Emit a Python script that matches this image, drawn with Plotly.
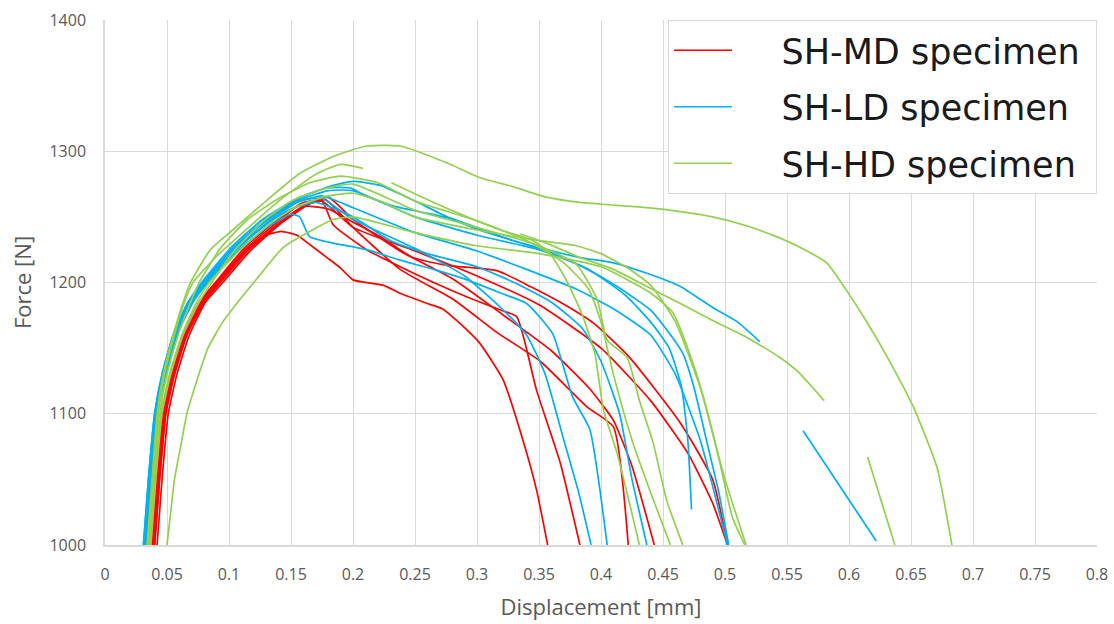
import plotly.graph_objects as go

# ---------------- data (displacement [mm], force [N]) ----------------
md1_x = [0.040,0.044,0.049,0.056,0.066,0.080,0.092,0.105,0.117,0.130,0.142,0.155,0.165,0.179,0.190,0.200,0.224,0.240,0.260,0.272,0.286,0.302,0.321,0.337,0.348,0.357]
md1_y = [1000,1050,1100,1130,1160,1185,1200,1215,1228,1236,1239,1236,1229,1219,1211,1202,1198,1191,1184,1180,1169,1154,1126,1080,1042,1000]
md2_x = [0.039,0.043,0.048,0.055,0.065,0.078,0.091,0.115,0.140,0.160,0.180,0.200,0.222,0.248,0.276,0.316,0.343,0.369,0.394,0.423,0.464,0.490,0.502]
md2_y = [1000,1050,1100,1130,1160,1185,1200,1225,1245,1258,1256,1246,1235,1219,1213,1209,1197,1184,1169,1143,1093,1050,1000]
md3_x = [0.037,0.041,0.046,0.053,0.063,0.076,0.089,0.113,0.138,0.160,0.175,0.184,0.211,0.238,0.265,0.292,0.319,0.332,0.348,0.367,0.383]
md3_y = [1000,1050,1100,1130,1160,1185,1200,1227,1247,1261,1262,1244,1225,1212,1200,1189,1179,1174,1118,1063,1000]
md4_x = [0.042,0.046,0.051,0.058,0.068,0.081,0.095,0.118,0.142,0.165,0.180,0.200,0.238,0.280,0.320,0.360,0.390,0.410,0.425,0.443]
md4_y = [1000,1050,1100,1130,1160,1185,1200,1225,1245,1260,1265,1248,1224,1203,1176,1148,1120,1095,1060,1000]
md5_x = [0.040,0.044,0.049,0.056,0.066,0.079,0.093,0.116,0.141,0.163,0.178,0.200,0.238,0.281,0.316,0.351,0.389,0.410,0.422]
md5_y = [1000,1050,1100,1130,1160,1185,1200,1225,1245,1259,1263,1242,1210,1187,1162,1140,1105,1090,1000]
md6_x = [0.038,0.042,0.047,0.054,0.064,0.077,0.090,0.114,0.139,0.158,0.175,0.200,0.250,0.300,0.350,0.400,0.440,0.470,0.490,0.502]
md6_y = [1000,1050,1100,1130,1160,1185,1200,1226,1246,1260,1262,1242,1224,1205,1183,1150,1110,1070,1032,1000]

ld1_x = [0.031,0.035,0.040,0.046,0.055,0.067,0.079,0.103,0.128,0.155,0.180,0.200,0.222,0.248,0.276,0.302,0.329,0.356,0.383,0.410,0.437,0.464,0.490,0.510,0.528]
ld1_y = [1000,1050,1100,1130,1160,1185,1200,1226,1247,1263,1273,1277,1274,1263,1250,1240,1232,1225,1219,1215,1207,1197,1181,1170,1155]
ld2_x = [0.032,0.036,0.041,0.047,0.056,0.068,0.080,0.104,0.129,0.155,0.180,0.200,0.250,0.300,0.350,0.390,0.420,0.440,0.455,0.465,0.470,0.473]
ld2_y = [1000,1050,1100,1130,1160,1185,1200,1226,1246,1262,1270,1270,1250,1236,1225,1210,1190,1170,1150,1120,1080,1027]
ld3_x = [0.032,0.036,0.041,0.048,0.057,0.069,0.081,0.105,0.130,0.155,0.175,0.200,0.250,0.300,0.340,0.380,0.410,0.440,0.460,0.480,0.490,0.502]
ld3_y = [1000,1050,1100,1130,1160,1185,1200,1225,1245,1261,1266,1257,1238,1224,1210,1195,1180,1160,1130,1080,1045,1000]
ld4_x = [0.033,0.037,0.042,0.049,0.058,0.070,0.082,0.106,0.131,0.150,0.170,0.200,0.230,0.260,0.300,0.330,0.360,0.385,0.400,0.415,0.425,0.437]
ld4_y = [1000,1050,1100,1130,1160,1185,1200,1225,1245,1256,1261,1250,1232,1222,1212,1200,1185,1165,1140,1100,1050,1000]
ld5_x = [0.033,0.037,0.042,0.049,0.058,0.071,0.083,0.107,0.132,0.150,0.157,0.165,0.184,0.211,0.238,0.265,0.292,0.319,0.340,0.361,0.377,0.391,0.405]
ld5_y = [1000,1050,1100,1130,1160,1185,1200,1224,1243,1252,1250,1235,1230,1225,1217,1210,1202,1192,1184,1161,1113,1088,1000]
ld6_x = [0.032,0.036,0.041,0.047,0.056,0.068,0.080,0.103,0.128,0.155,0.175,0.200,0.250,0.290,0.320,0.340,0.355,0.370,0.382,0.392]
ld6_y = [1000,1050,1100,1130,1160,1185,1200,1226,1246,1262,1264,1248,1226,1205,1180,1160,1130,1080,1040,1000]
ld7_x = [0.031,0.035,0.040,0.046,0.055,0.067,0.078,0.102,0.127,0.155,0.179,0.198,0.208,0.224,0.238,0.278,0.305,0.332,0.359,0.385,0.413,0.440,0.453,0.466,0.475,0.485,0.495,0.503]
ld7_y = [1000,1050,1100,1130,1160,1185,1200,1227,1248,1264,1272,1272,1267,1261,1257,1249,1240,1231,1223,1212,1197,1179,1164,1146,1120,1080,1040,1000]
ld8_x = [0.563,0.622]
ld8_y = [1087,1003]

hd1_x = [0.034,0.038,0.042,0.047,0.055,0.063,0.069,0.085,0.103,0.131,0.157,0.184,0.211,0.238,0.276,0.302,0.329,0.356,0.383,0.410,0.437,0.464,0.490,0.518,0.544,0.560,0.582,0.598,0.615,0.631,0.652,0.671,0.683]
hd1_y = [1000,1050,1100,1130,1160,1185,1200,1225,1240,1263,1283,1296,1304,1304,1291,1280,1273,1265,1261,1259,1257,1254,1250,1243,1234,1227,1215,1194,1169,1143,1105,1059,1000]
hd2_x = [0.035,0.039,0.043,0.048,0.056,0.064,0.071,0.090,0.117,0.144,0.171,0.190,0.208]
hd2_y = [1000,1050,1100,1130,1160,1185,1200,1220,1243,1265,1283,1290,1287]
hd3_x = [0.050,0.053,0.056,0.061,0.066,0.074,0.083,0.095,0.107,0.120,0.144,0.171,0.184,0.200,0.250,0.300,0.350,0.400,0.440,0.458,0.474,0.486,0.496,0.506,0.516]
hd3_y = [1000,1025,1050,1075,1100,1125,1150,1170,1185,1200,1227,1242,1248,1250,1238,1228,1222,1212,1192,1177,1139,1101,1062,1021,1000]
hd4_x = [0.035,0.039,0.044,0.050,0.059,0.069,0.076,0.093,0.115,0.140,0.165,0.190,0.220,0.250,0.300,0.340,0.370,0.390,0.400,0.410,0.425,0.440,0.456]
hd4_y = [1000,1050,1100,1130,1160,1185,1200,1226,1248,1264,1276,1281,1276,1262,1247,1232,1215,1195,1170,1130,1080,1040,1000]
hd5_x = [0.037,0.041,0.046,0.053,0.063,0.076,0.086,0.105,0.128,0.150,0.175,0.200,0.250,0.300,0.350,0.380,0.397,0.405,0.421,0.431,0.442,0.453,0.466]
hd5_y = [1000,1050,1100,1130,1160,1185,1200,1225,1247,1262,1271,1275,1255,1242,1228,1214,1187,1156,1143,1110,1078,1034,1000]
hd6_x = [0.036,0.040,0.045,0.052,0.062,0.074,0.084,0.108,0.132,0.155,0.180,0.200,0.222,0.250,0.300,0.350,0.380,0.400,0.420,0.440,0.460,0.480,0.500,0.517]
hd6_y = [1000,1050,1100,1130,1160,1185,1200,1224,1244,1258,1266,1268,1262,1250,1240,1232,1228,1222,1212,1198,1170,1120,1050,1000]
hd7_x = [0.335,0.356,0.383,0.410,0.437,0.464,0.490,0.518,0.544,0.560,0.580]
hd7_y = [1237,1230,1219,1210,1197,1184,1171,1158,1143,1131,1110]
hd8_x = [0.231,0.265,0.292,0.319,0.345,0.359,0.373,0.385,0.395,0.402,0.413,0.431]
hd8_y = [1276,1261,1250,1240,1232,1222,1200,1175,1146,1103,1070,1000]
hd9_x = [0.615,0.637]
hd9_y = [1067,1000]

md_curves = [(md1_x, md1_y), (md2_x, md2_y), (md3_x, md3_y), (md4_x, md4_y), (md5_x, md5_y), (md6_x, md6_y)]
ld_curves = [(ld1_x, ld1_y), (ld2_x, ld2_y), (ld3_x, ld3_y), (ld4_x, ld4_y), (ld5_x, ld5_y), (ld6_x, ld6_y), (ld7_x, ld7_y), (ld8_x, ld8_y)]
hd_curves = [(hd1_x, hd1_y), (hd2_x, hd2_y), (hd3_x, hd3_y), (hd4_x, hd4_y), (hd5_x, hd5_y), (hd6_x, hd6_y), (hd7_x, hd7_y), (hd8_x, hd8_y), (hd9_x, hd9_y)]

x_ticks = [0, 0.05, 0.1, 0.15, 0.2, 0.25, 0.3, 0.35, 0.4, 0.45, 0.5, 0.55, 0.6, 0.65, 0.7, 0.75, 0.8]
x_tick_labels = ["0", "0.05", "0.1", "0.15", "0.2", "0.25", "0.3", "0.35", "0.4", "0.45", "0.5", "0.55", "0.6", "0.65", "0.7", "0.75", "0.8"]
y_ticks = [1000, 1100, 1200, 1300, 1400]

series_names = ["SH-MD specimen", "SH-LD specimen", "SH-HD specimen"]
series_colors = ["#ff0000", "#00b0f0", "#92d050"]
series_curves = [md_curves, ld_curves, hd_curves]

fig = go.Figure()
pad = "\u00a0" * 4
for rank, (name, color, curves) in enumerate(zip(series_names, series_colors, series_curves)):
    for i, (xs, ys) in enumerate(curves):
        fig.add_trace(go.Scatter(
            x=xs, y=ys, mode="lines",
            line=dict(color=color, width=1.7, shape="spline", smoothing=0.5),
            name=pad + name + "\u00a0", legendgroup=name, showlegend=(i == 0),
            legendrank=rank + 1,
            hoverinfo="skip",
        ))

fig.update_layout(
    width=1114, height=624,
    margin=dict(l=105, r=17, t=20, b=79, autoexpand=False),
    paper_bgcolor="white", plot_bgcolor="white",
    font=dict(family="Open Sans, DejaVu Sans, sans-serif", color="#595959"),
    showlegend=True,
    legend=dict(
        x=1, y=1.0, xanchor="right", yanchor="top",
        bgcolor="white", bordercolor="#d9d9d9", borderwidth=1,
        font=dict(family="DejaVu Sans, Verdana, sans-serif", size=35, color="#1a1a1a"),
        itemwidth=58, tracegroupgap=8, traceorder="grouped",
    ),
)
fig.update_xaxes(
    range=[0, 0.8], tickvals=x_ticks, ticktext=x_tick_labels,
    showgrid=True, gridcolor="#d9d9d9", gridwidth=1,
    showline=True, linecolor="#d9d9d9", linewidth=1.5, zeroline=False,
    ticks="outside", ticklen=14, tickcolor="rgba(0,0,0,0)",
    tickfont=dict(size=16, color="#595959"),
    automargin=False,
    title=dict(text="Displacement [mm]", font=dict(size=22, color="#595959"), standoff=16),
)
fig.update_yaxes(
    range=[1000, 1400], tickvals=y_ticks,
    showgrid=True, gridcolor="#d9d9d9", gridwidth=1,
    showline=True, linecolor="#d9d9d9", linewidth=1.5, zeroline=False,
    ticks="outside", ticklen=14, tickcolor="rgba(0,0,0,0)",
    tickfont=dict(size=16, color="#595959"),
    automargin=False,
    title=dict(text="Force [N]", font=dict(size=22, color="#595959"), standoff=12),
)

fig.write_html("out.html")
